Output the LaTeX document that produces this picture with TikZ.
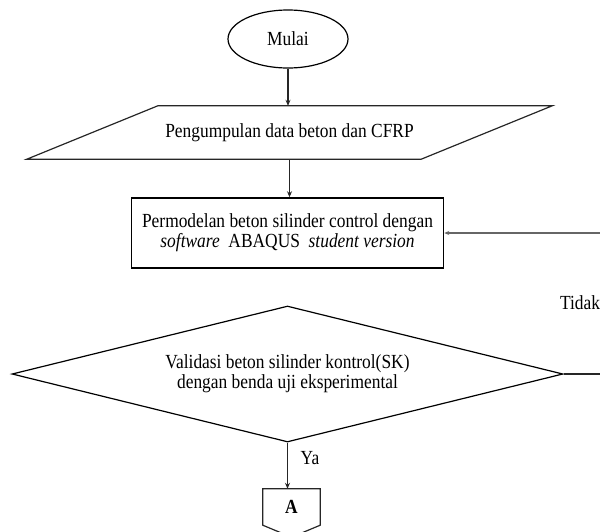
\documentclass[tikz,border=0pt]{standalone}
\usepackage{fontspec}
\setmainfont{Liberation Serif}[FakeStretch=0.87]
\usetikzlibrary{shapes.geometric,arrows.meta,calc}
\begin{document}
\begin{tikzpicture}[x=1pt,y=-1pt,
  every node/.style={font=\fontsize{20}{20}\selectfont, inner sep=0pt},
  line/.style={line width=1.2pt, black!85},
  arr/.style={line, -{Stealth[length=6pt,width=5pt]}},
  grayline/.style={line width=2pt, black!60},
  term/.style={ellipse, draw, line width=1.2pt, minimum width=120pt, minimum height=58pt},
  iobox/.style={rectangle, minimum width=394pt, minimum height=53pt},
  procbox/.style={rectangle, draw, line width=1.5pt, minimum width=312pt, minimum height=70pt, align=center},
  decbox/.style={diamond, draw, line width=1.2pt, shape aspect=4.05, minimum width=551pt, minimum height=136pt, align=center},
  offbox/.style={minimum width=57pt, minimum height=36pt, font=\fontsize{20}{20}\selectfont\bfseries}
]
\useasboundingbox (0,0) rectangle (600,531);
\clip (0,0) rectangle (600,531);

\node[term] (start) at (288,39) {Mulai};
\node[iobox] (data) at (289.5,132.5) {Pengumpulan data beton dan CFRP};
\draw[line] ($(data.north west)+(65.5,0)$) -- ($(data.north east)+(65.5,0)$)
  -- ($(data.south east)+(-65.5,0)$) -- ($(data.south west)+(-65.5,0)$) -- cycle;
\node[procbox] (model) at (287.5,233) {Permodelan beton silinder control dengan\\ \textit{software}\ \ ABAQUS\ \ \textit{student version}};
\node[decbox] (valid) at (287.5,374) {Validasi beton silinder kontrol(SK)\\dengan benda uji eksperimental};
\node[offbox] (conA) at (291.5,507) {A};
\draw[line] (conA.north west) -- (conA.north east) -- (conA.south east) -- ($(conA.south)+(0,12)$) -- (conA.south west) -- cycle;

\node (ya) at (310,458) {Ya};
\node (tidak) at (580,303) {Tidak};

\coordinate (r1) at (600,233);
\coordinate (r2) at (600,374);

\draw[arr] (start.south) -- (start.south |- data.north);
\draw[arr] (data.south) -- (data.south |- model.north);
\draw[grayline, -{Stealth[length=5pt,width=4pt]}] (r1) -- (model.east);
\draw[line] (valid.east) -- (r2);
\draw[arr] (valid.south) -- (valid.south |- conA.north);
\end{tikzpicture}
\end{document}
